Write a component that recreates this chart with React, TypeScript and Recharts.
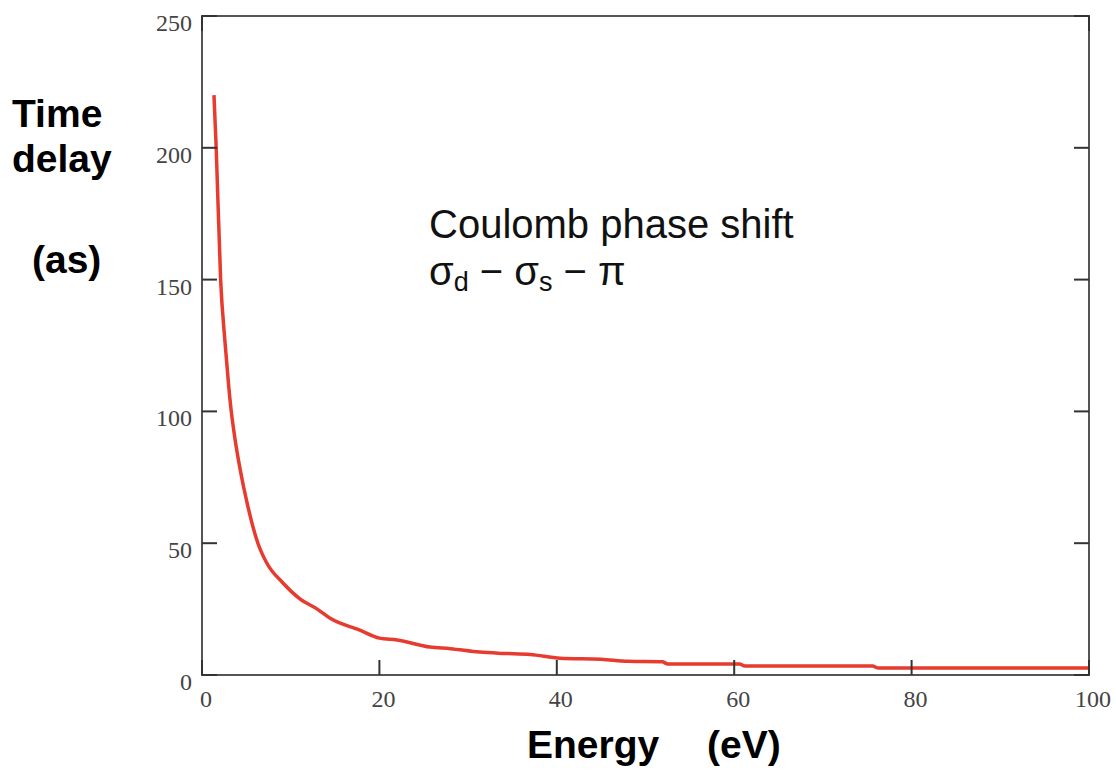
import React from 'react';
import { LineChart, Line, XAxis, YAxis, ReferenceArea } from 'recharts';

// photoelectron energy (eV) vs. Coulomb phase delay (as)
const energy = [
  1.35, 1.6, 2.1, 2.6, 3.0, 3.3, 3.7, 4.3, 5.1, 6.3, 7.3, 9.1, 11, 13, 14.4, 17.8, 20, 22,
  25.7, 28, 31.3, 34, 37, 40.4, 45, 48, 51.9, 52.5, 60.6, 61.2, 75.6, 76.2, 100,
];
const delay = [
  220, 200, 150, 126, 110, 100, 90, 78, 65, 50, 42.5, 35, 29, 25, 21.6, 17, 14, 13.3,
  10.6, 10, 8.7, 8.2, 7.8, 6.4, 6, 5.2, 5.0, 4.2, 4.2, 3.4, 3.4, 2.7, 2.7,
];
const xTicks = [0, 20, 40, 60, 80, 100];
const yTicks = [0, 50, 100, 150, 200, 250];

const data = energy.map((e, i) => ({ e, t: delay[i] }));

const W = 1116;
const H = 774;
const M = { top: 16, right: 27, bottom: 0, left: 0 };
const Y_AXIS_W = 202;
const X_AXIS_H = 99;
const plotLeft = M.left + Y_AXIS_W;
const plotRight = W - M.right;
const plotTop = M.top;
const plotBottom = H - M.bottom - X_AXIS_H;
const TICK = 15;

const sansFont = '"Liberation Sans", Arial, sans-serif';
const serifFont = '"Liberation Serif", "Times New Roman", serif';
const frameColor = '#555';
const tickColor = '#333';

// labels outside, tick marks pointing into the box on both sides
const YTick = (props: any) => {
  const y = props.y;
  return (
    <g>
      <path d={`M${plotLeft},${y}h${TICK}`} stroke={tickColor} strokeWidth={2} fill="none" />
      <path d={`M${plotRight},${y}h${-TICK}`} stroke={tickColor} strokeWidth={2} fill="none" />
      <text x={plotLeft - 10} y={y + 15} textAnchor="end" fontFamily={serifFont} fontSize={24} fill="#444">
        {props.payload.value}
      </text>
    </g>
  );
};

const XTick = (props: any) => {
  const x = props.x;
  const v = props.payload.value;
  return (
    <g>
      <path d={`M${x},${plotBottom}v${-TICK}`} stroke={tickColor} strokeWidth={2} fill="none" />
      {(v === 0 || v === 100) && (
        <path d={`M${x},${plotTop}v${TICK}`} stroke={tickColor} strokeWidth={2} fill="none" />
      )}
      <text x={x + 4} y={plotBottom + 32} textAnchor="middle" fontFamily={serifFont} fontSize={24} fill="#444">
        {v}
      </text>
    </g>
  );
};

export default function App() {
  const frame = { stroke: frameColor, strokeWidth: 2 };
  return (
    <div style={{ position: 'absolute', left: 0, top: 0, width: W, height: H, background: '#fff' }}>
      <LineChart width={W} height={H} data={data} margin={M}>
        <ReferenceArea x1={0} x2={100} y1={0} y2={250} fill="none" stroke={frameColor} strokeWidth={2} />
        <XAxis
          dataKey="e"
          type="number"
          domain={[0, 100]}
          allowDataOverflow
          ticks={xTicks}
          height={X_AXIS_H}
          tickLine={false}
          tick={<XTick />}
          axisLine={frame}
        />
        <YAxis
          type="number"
          domain={[0, 250]}
          allowDataOverflow
          ticks={yTicks}
          width={Y_AXIS_W}
          tickLine={false}
          tick={<YTick />}
          axisLine={frame}
        />
        <Line
          dataKey="t"
          type="monotone"
          stroke="#e63b2e"
          strokeWidth={3.5}
          dot={false}
          isAnimationActive={false}
        />
      </LineChart>
      <svg
        width={W}
        height={H}
        style={{ position: 'absolute', left: 0, top: 0, pointerEvents: 'none' }}
      >
        <g fontFamily={sansFont} fontWeight="bold" fontSize={39} fill="#000">
          <text x={12} y={127}>Time</text>
          <text x={12} y={172}>delay</text>
          <text x={32} y={273}>(as)</text>
          <text x={527} y={758}>Energy</text>
          <text x={707} y={758}>(eV)</text>
        </g>
        <g fontFamily={sansFont} fontSize={40} fill="#111">
          <text x={429} y={238}>Coulomb phase shift</text>
          <text x={429} y={285}>
            σ<tspan fontSize={27} dy={6}>d</tspan>
            <tspan fontSize={40} dy={-6}> − σ</tspan>
            <tspan fontSize={27} dy={6}>s</tspan>
            <tspan fontSize={40} dy={-6}> − π</tspan>
          </text>
        </g>
      </svg>
    </div>
  );
}
